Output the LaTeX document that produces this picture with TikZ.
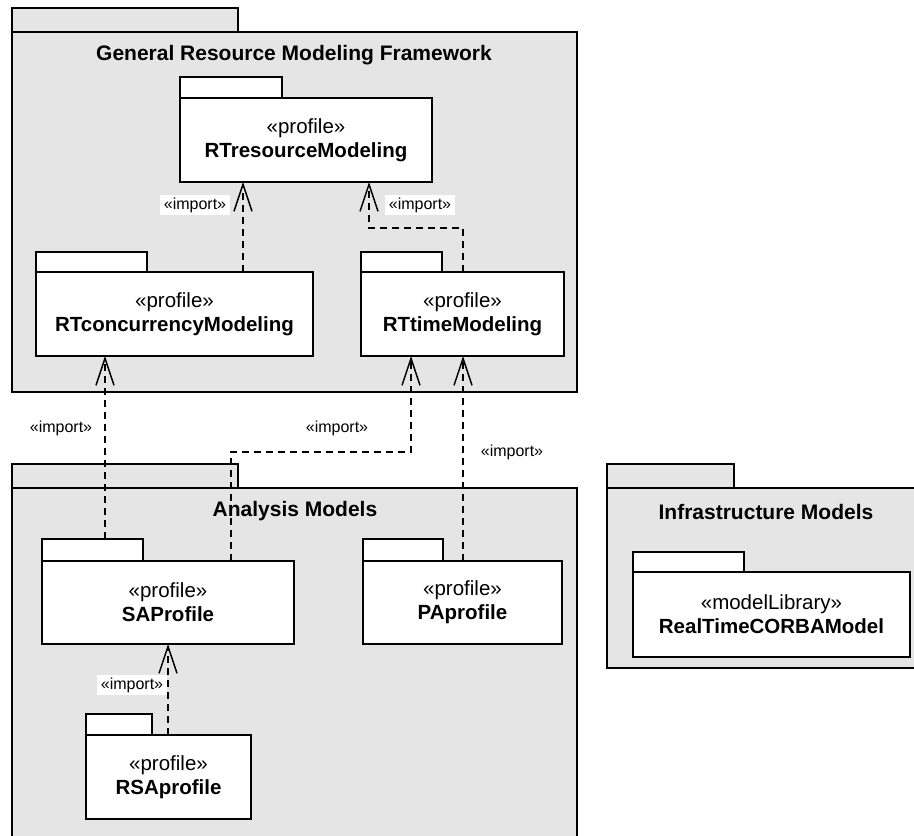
\documentclass[tikz,border=0pt]{standalone}
\usepackage{fontspec}
\setmainfont{Liberation Sans}
\usetikzlibrary{arrows.meta}
\definecolor{pkggray}{gray}{0.9}
\begin{document}
\begin{tikzpicture}[x=1pt,y=1pt,
	pkg/.style={draw,fill=white,line width=1.2pt,inner sep=0pt,outer sep=0pt,anchor=south west,align=center,font=\fontsize{20.5}{24}\selectfont},
	outer/.style={pkg,fill=pkggray},
	tab/.style={draw,fill=white,line width=1.2pt,inner sep=0pt,outer sep=0pt,anchor=south west},
	outertab/.style={tab,fill=pkggray},
	title/.style={font=\fontsize{21}{25}\selectfont\bfseries},
	dep/.style={dash pattern=on 7pt off 5pt,line width=1.8pt,-{Straight Barb[length=27pt,width=18pt,line width=1.5pt]}},
	implabel/.style={fill=white,inner xsep=4pt,inner ysep=3pt,font=\fontsize{16}{19}\selectfont}]
	\useasboundingbox (0,0) rectangle (914,836);
	% General Resource Modeling Framework
	\node[outer,minimum width=565pt,minimum height=360pt] (grmf) at (12,444) {};
	\node[outertab,minimum width=226pt,minimum height=24pt] (grmftab) at (grmf.north west) {};
	\node[title] (grmft) at (294,781) {General Resource Modeling Framework};
	\node[pkg,minimum width=252pt,minimum height=84pt] (rtres) at (180,654) {«profile»\\\textbf{RTresourceModeling}};
	\node[tab,minimum width=102pt,minimum height=21pt] (rtrestab) at (rtres.north west) {};
	\node[pkg,minimum width=277pt,minimum height=84pt] (rtconc) at (36,480) {«profile»\\\textbf{RTconcurrencyModeling}};
	\node[tab,minimum width=111pt,minimum height=20pt] (rtconctab) at (rtconc.north west) {};
	\node[pkg,minimum width=203pt,minimum height=84pt] (rttime) at (361,480) {«profile»\\\textbf{RTtimeModeling}};
	\node[tab,minimum width=81pt,minimum height=20pt] (rttimetab) at (rttime.north west) {};
	% Analysis Models
	\node[outer,minimum width=565pt,minimum height=358pt] (anal) at (12,-10) {};
	\node[outertab,minimum width=226pt,minimum height=24pt] (analtab) at (anal.north west) {};
	\node[title] (analt) at (295,325) {Analysis Models};
	\node[pkg,minimum width=252pt,minimum height=83pt] (sa) at (42,192) {«profile»\\\textbf{SAProfile}};
	\node[tab,minimum width=101pt,minimum height=22pt] (satab) at (sa.north west) {};
	\node[pkg,minimum width=199pt,minimum height=83pt] (pa) at (363,192) {«profile»\\\textbf{PAprofile}};
	\node[tab,minimum width=80pt,minimum height=22pt] (patab) at (pa.north west) {};
	\node[pkg,minimum width=165pt,minimum height=84pt] (rsa) at (86,17) {«profile»\\\textbf{RSAprofile}};
	\node[tab,minimum width=66pt,minimum height=21pt] (rsatab) at (rsa.north west) {};
	% Infrastructure Models
	\node[outer,minimum width=323pt,minimum height=180pt] (infra) at (607,168) {};
	\node[outertab,minimum width=127pt,minimum height=24pt] (infratab) at (infra.north west) {};
	\node[title] (infrat) at (766,324) {Infrastructure Models};
	\node[pkg,minimum width=277pt,minimum height=85pt] (corba) at (633,179) {«modelLibrary»\\\textbf{RealTimeCORBAModel}};
	\node[tab,minimum width=111pt,minimum height=20pt] (corbatab) at (corba.north west) {};
	% imports
	\draw[dep] (rtconc.north -| 243,0) -- (rtres.south -| 243,0);
	\draw[dep] (rttime.north -| 463,0) |- (369,608) -- (rtres.south -| 369,0);
	\draw[dep] (satab.north -| 105,0) -- (rtconc.south -| 105,0);
	\draw[dep] (sa.north -| 231,0) |- (411,384) -- (rttime.south -| 411,0);
	\draw[dep] (pa.north -| 463,0) -- (rttime.south -| 463,0);
	\draw[dep] (rsa.north -| 168,0) -- (sa.south -| 168,0);
	\node[implabel] (l1) at (195,631) {«import»};
	\node[implabel] (l2) at (420,631) {«import»};
	\node[implabel] (l3) at (61,408) {«import»};
	\node[implabel] (l4) at (337,408) {«import»};
	\node[implabel] (l5) at (512,384) {«import»};
	\node[implabel] (l6) at (132,151) {«import»};
\end{tikzpicture}
\end{document}
